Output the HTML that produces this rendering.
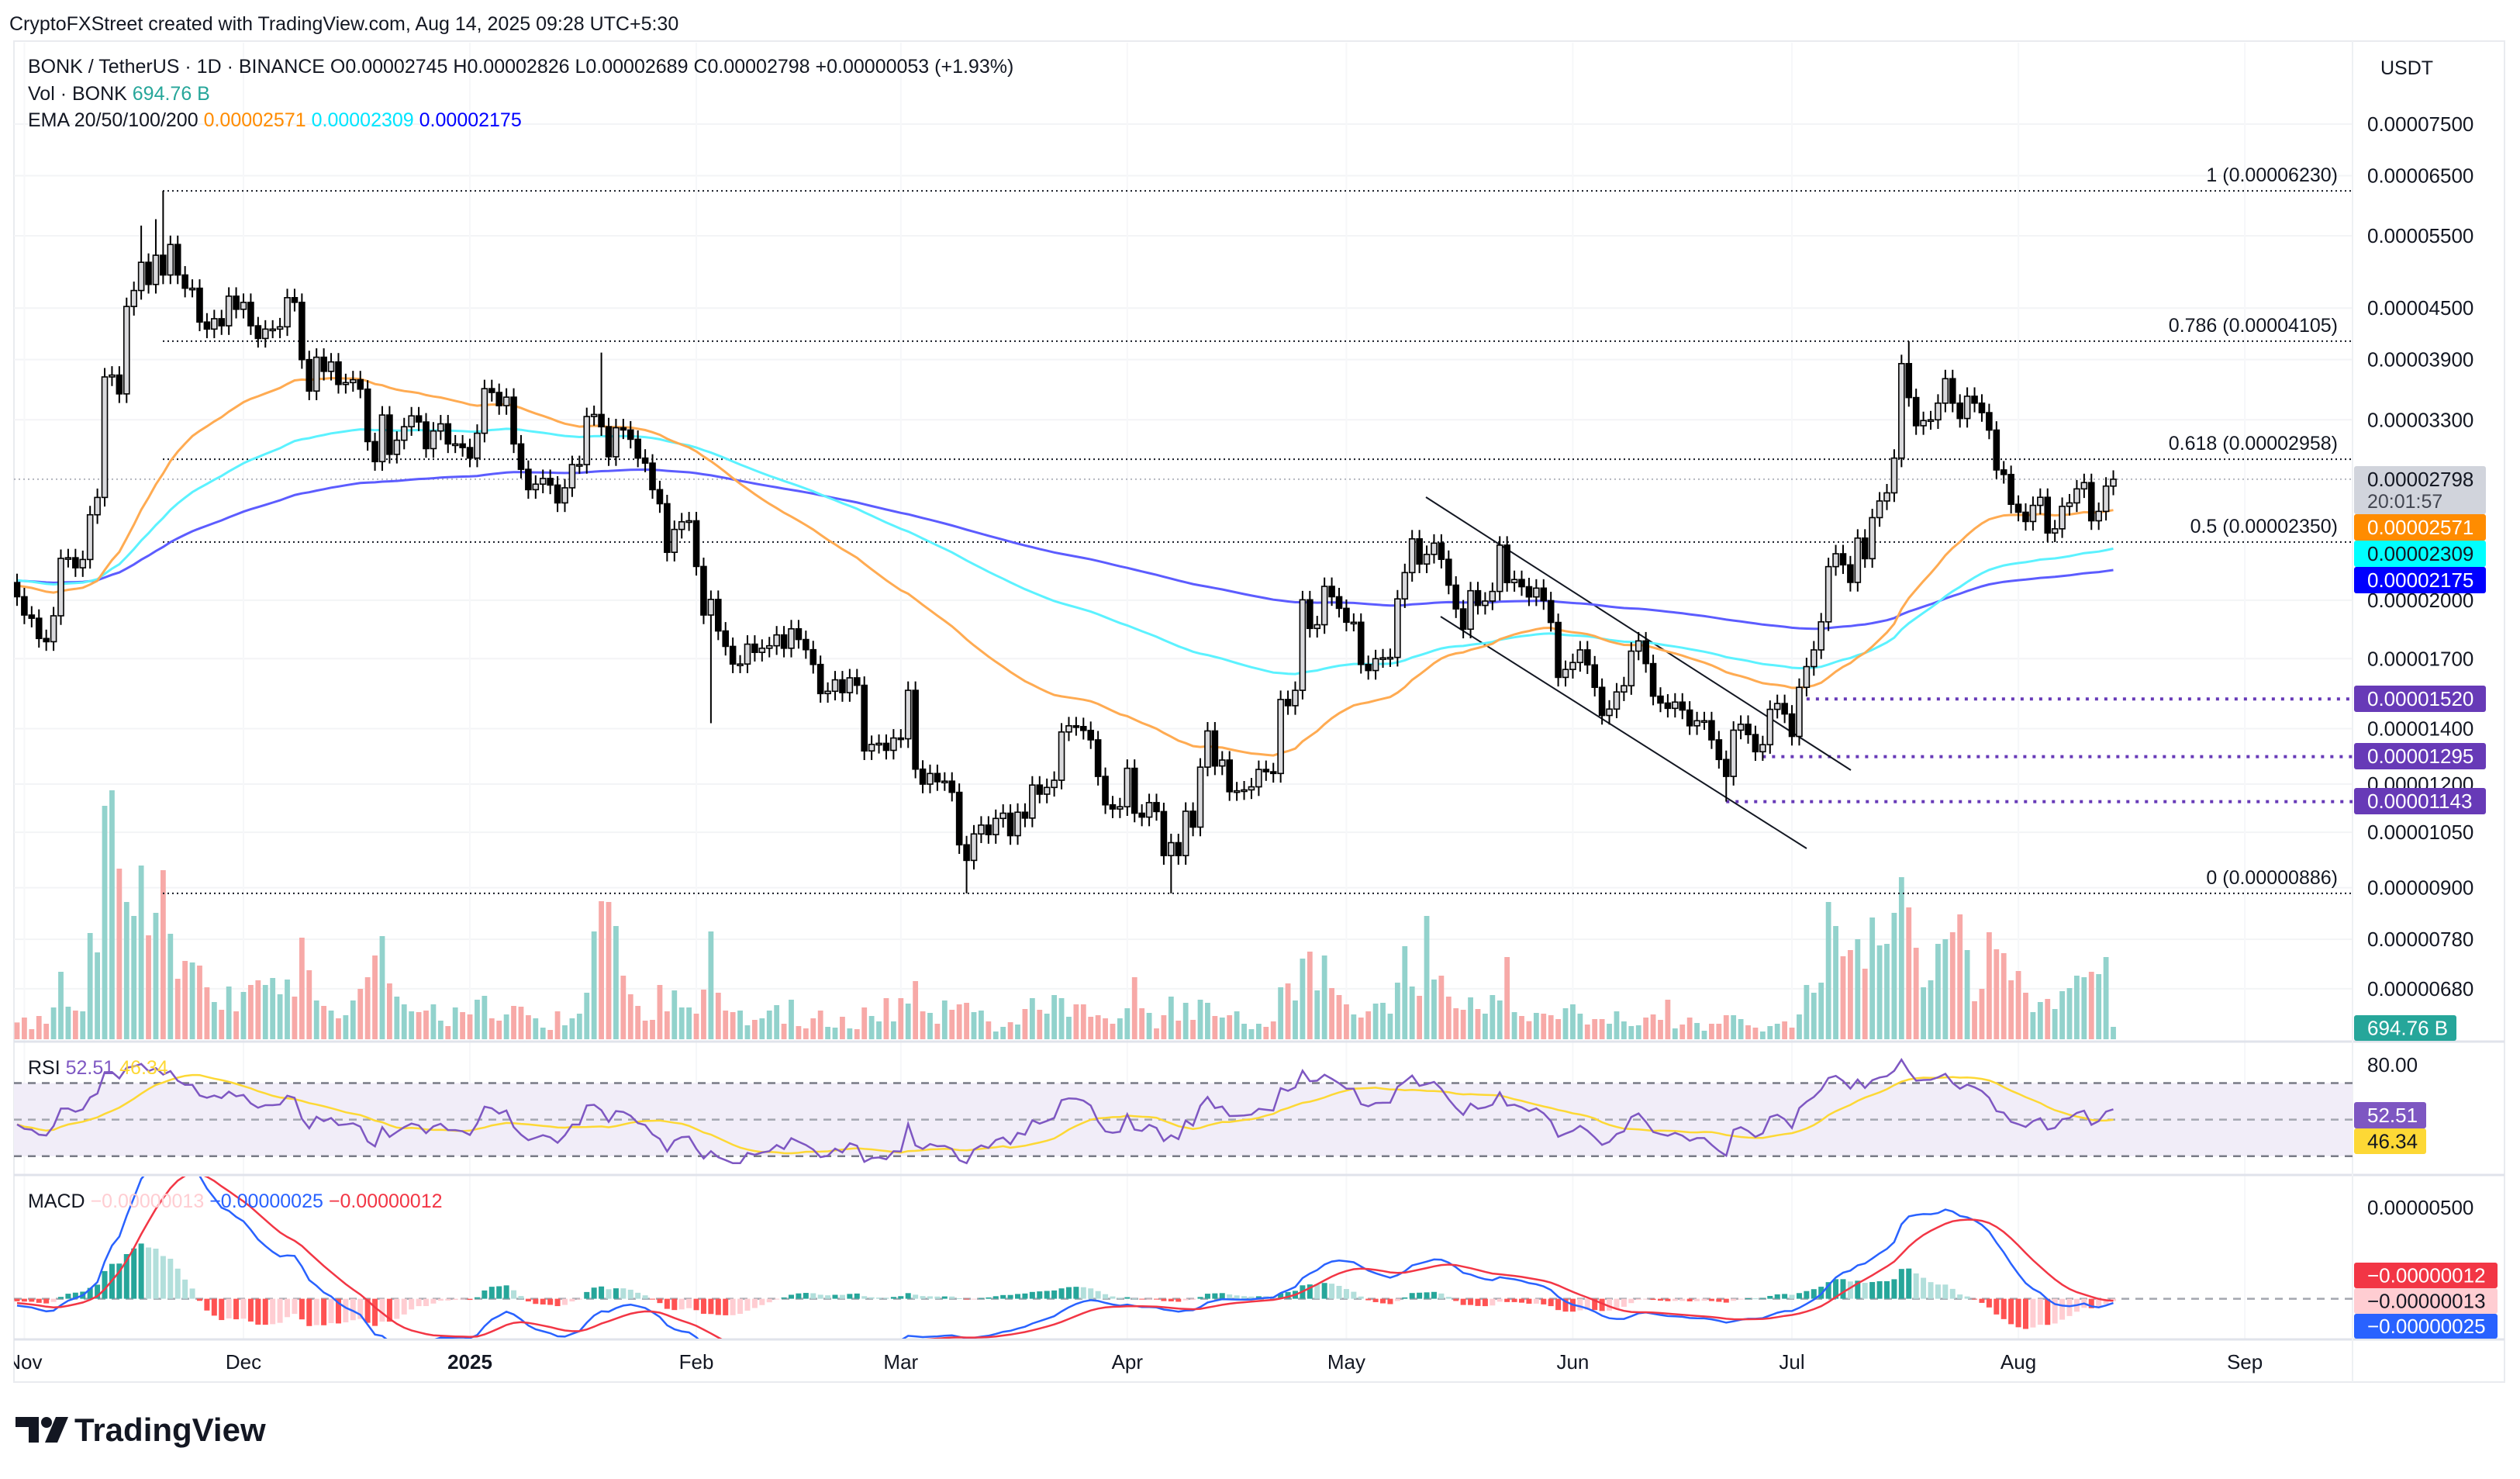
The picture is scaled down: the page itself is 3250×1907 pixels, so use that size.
<!DOCTYPE html>
<html><head><meta charset="utf-8"><title>BONK/USDT chart</title>
<style>
html,body{margin:0;padding:0;background:#fff;}
body{width:3250px;height:1902px;overflow:hidden;font-family:"Liberation Sans",sans-serif;}
svg text{font-family:"Liberation Sans",sans-serif;}
</style></head>
<body>
<svg id="chart" xmlns="http://www.w3.org/2000/svg" width="3250" height="1902" viewBox="0 0 3250 1902">
<defs>
<clipPath id="mainClip"><rect x="18" y="55" width="3016" height="1287"/></clipPath>
<clipPath id="rsiClip"><rect x="18" y="1345" width="3016" height="169"/></clipPath>
<clipPath id="macdClip"><rect x="18" y="1517" width="3016" height="209"/></clipPath>
<clipPath id="timeClip"><rect x="18" y="1728" width="3016" height="54"/></clipPath>
</defs>
<rect x="0" y="0" width="3250" height="1902" fill="#ffffff"/>
<text x="12" y="39" font-size="25" fill="#131722">CryptoFXStreet created with TradingView.com, Aug 14, 2025 09:28 UTC+5:30</text>
<rect x="18" y="53" width="3212" height="1729" fill="none" stroke="#e9ebef" stroke-width="2"/>
<g id="grid"></g>
<g id="mainPane" clip-path="url(#mainClip)"></g>
<g id="rsiPane" clip-path="url(#rsiClip)"></g>
<g id="macdPane" clip-path="url(#macdClip)"></g>
<g id="timeAxis" clip-path="url(#timeClip)"></g>
<g id="axis"></g>
<g>
<text x="36" y="94" font-size="25" fill="#131722">BONK / TetherUS · 1D · BINANCE  <tspan>O0.00002745</tspan>  <tspan>H0.00002826</tspan>  <tspan>L0.00002689</tspan>  <tspan>C0.00002798</tspan>  <tspan>+0.00000053 (+1.93%)</tspan></text>
<text x="36" y="129" font-size="25" fill="#131722">Vol · BONK  <tspan fill="#26a69a">694.76 B</tspan></text>
<text x="36" y="163" font-size="25" fill="#131722">EMA 20/50/100/200  <tspan fill="#ff8c00">0.00002571</tspan>  <tspan fill="#00e5ff">0.00002309</tspan>  <tspan fill="#0000ff">0.00002175</tspan></text>
<text x="36" y="1385" font-size="25" fill="#131722">RSI  <tspan fill="#7e57c2">52.51</tspan> <tspan fill="#fdd835">46.34</tspan></text>
<text x="36" y="1557" font-size="25" fill="#131722">MACD  <tspan fill="#ffcdd2">−0.00000013</tspan> <tspan fill="#2962ff">−0.00000025</tspan> <tspan fill="#f23645">−0.00000012</tspan></text>
</g>
<text x="3070" y="96" font-size="25" fill="#131722">USDT</text>
<g>
<path d="M20 1827 H50 V1860 H37 V1840 H20 Z" fill="#131722"/>
<circle cx="60" cy="1834" r="7" fill="#131722"/>
<path d="M72 1827 H88 L74 1860 H58 Z" fill="#131722"/>
<text x="96" y="1858" font-size="42" font-weight="bold" fill="#131722">TradingView</text>
</g>
</svg>
<script>
// ---- data (prices in units of 0.00000001) ----
const startDay = -1; // Oct 31, 2024 (day 0 = Nov 1)
const closes = [
2019,1919,1902,1798,1782,1915,2246,2250,2188,2239,2535,
2660,3717,3736,3546,4520,4725,5110,4805,5211,4933,
5369,4933,4755,4755,4329,4245,4369,4284,4651,4485,
4572,4284,4136,4245,4245,4272,4632,4572,3900,3574,
3926,3775,3875,3640,3659,3688,3593,3106,2938,3344,
2998,3118,3237,3336,3280,3046,3199,3263,3086,3086,
3055,2967,3179,3598,3560,3432,3514,3086,2876,2718,
2760,2804,2753,2620,2732,2914,2914,3330,3349,3237,
2978,3228,3208,3126,2967,2926,2718,2614,2284,2434,
2486,2493,2196,1919,2004,1836,1759,1675,1675,1770,
1730,1750,1762,1816,1750,1847,1793,1743,1673,1543,
1553,1603,1547,1612,1579,1316,1340,1344,1318,1364,
1361,1557,1251,1200,1236,1208,1210,1173,1014,971,
1045,1071,1043,1091,1107,1040,1110,1092,1197,1167,
1189,1213,1387,1411,1408,1393,1357,1226,1133,1120,
1127,1254,1107,1095,1140,1112,984,1020,984,1113,
1065,1258,1391,1262,1283,1175,1178,1181,1191,1250,
1242,1236,1518,1492,1557,2002,1849,1868,2078,2019,
1955,1881,1881,1673,1645,1700,1704,1706,2007,2159,
2371,2211,2271,2343,2240,2085,1952,1845,2053,1971,
1995,2049,2330,2100,2118,2076,2018,2068,1997,1880,
1614,1650,1682,1742,1671,1570,1452,1478,1550,1577,
1736,1786,1677,1532,1503,1481,1507,1474,1411,1431,
1431,1357,1285,1226,1394,1417,1377,1313,1339,1477,
1501,1458,1370,1570,1663,1742,1883,2195,2275,2206,
2101,2376,2244,2515,2634,2694,2967,3857,3510,3246,
3293,3300,3456,3699,3456,3312,3523,3456,3366,3207,
2871,2835,2610,2553,2488,2602,2661,2410,2438,2595,
2620,2724,2772,2493,2559,2745,2798
];
const firstOpen = 2100;
// notable wick extremes: [dayIndex, value]
const highMarks = [[16,5658],[18,5760],[19,6230],[79,3977],[257,3950],[258,4105]];
const lowMarks = [[94,1421],[129,886],[157,886],[233,1143]];
// volume in units of 14.5B
const volumes = [
65,84,39,90,60,123,261,126,111,108,
411,336,903,963,660,531,477,672,402,489,
654,408,234,303,297,285,201,144,114,204,
108,183,210,228,210,237,174,231,165,393,
267,150,129,111,81,93,150,195,240,324,
399,216,165,135,108,105,111,135,72,51,
123,105,96,153,168,81,72,96,129,126,
93,81,45,36,108,54,81,99,180,417,
534,531,438,246,174,129,72,75,210,108,
189,123,123,99,192,417,180,111,105,111,
54,75,81,111,132,60,153,51,42,81,
111,48,45,87,42,39,123,90,69,159,
69,159,138,225,
108,102,60,150,114,135,141,105,111,69,30,48,66,57,117,159,114,99,171,159,87,135,
135,87,93,81,60,81,120,240,120,102,
42,93,165,72,141,75,153,141,90,84,
93,108,60,39,60,48,69,201,216,150,
312,339,189,324,198,171,135,96,84,108,
138,141,99,219,360,204,168,477,231,246,
165,120,114,162,117,99,171,150,318,105,
90,70,
102,99,93,78,120,135,99,57,78,78,
60,108,69,51,54,84,96,75,153,42,
57,84,63,33,60,60,93,93,78,54,
45,30,51,60,69,45,96,210,180,219,
531,438,321,345,387,273,471,363,369,489,
627,510,354,201,228,369,387,414,483,345,
147,195,414,348,333,228,264,180,105,144,
156,117,186,198,246,240,261,252,318,48
];
const priceTicks = [7500,6500,5500,4500,3900,3300,2000,1700,1400,1200,1050,900,780,680];
const fibLevels = [1,0.786,0.618,0.5,0];
const fibPrices = [6230,4105,2958,2350,886];
const supportPrices = [1520,1295,1143];
const supportStartDay = [244,238,233];
const monthLabels = ["Nov","Dec","2025","Feb","Mar","Apr","May","Jun","Jul","Aug","Sep"];
const monthDays = [0,30,61,92,120,151,181,212,242,273,304];
const rsiTicks = [80];
const macdTicks = [500];

// ---- axis functions ----
const NS = "http://www.w3.org/2000/svg";
function xOf(day){ return 31.4 + 9.42*day; }
function yP(p){ return 160 + 464.4*Math.log(7500/p); }
function yRsi(v){ return 1443.6 - (v-50)*2.357; }
function yMacd(v){ return 1674.6 - v*0.2357; }
function mk(parent, tag, attrs){ const e=document.createElementNS(NS,tag); for(const k in attrs) e.setAttribute(k,attrs[k]); parent.appendChild(e); return e; }
function fmt(p){ return (p/1e8).toFixed(8); }
const main=document.getElementById('mainPane'), grid=document.getElementById('grid'), axis=document.getElementById('axis');
const rsiG=document.getElementById('rsiPane'), macdG=document.getElementById('macdPane'), timeG=document.getElementById('timeAxis');
const N=closes.length;
const dayOf = i => startDay + i;

// grid
priceTicks.forEach(p=>{
  const l=mk(grid,'line',{x1:18,x2:3034,y1:yP(p),y2:yP(p),stroke:'#f3f4f6','stroke-width':2});
  
  
});
monthDays.forEach(d=>{
  const l=mk(grid,'line',{x1:xOf(d),x2:xOf(d),y1:55,y2:1727,stroke:'#f6f7f9','stroke-width':2});
  
  
});
[[1343],[1515],[1727]].forEach(a=>{
  const l=mk(grid,'line',{x1:18,x2:3230,y1:a[0],y2:a[0],stroke:'#e0e3eb','stroke-width':3});
  
  
});
const axl=mk(grid,'line',{x1:3034,x2:3034,y1:53,y2:1782,stroke:'#eef0f3','stroke-width':2});



// OHLC
const opens=[],highs=[],lows=[];
for(let i=0;i<N;i++){
  const o=i?closes[i-1]:firstOpen, c=closes[i];
  opens.push(o); highs.push(Math.max(o,c)*1.025); lows.push(Math.min(o,c)*0.975);
}
highMarks.forEach(([d,v])=>{ const i=d-startDay; if(i>=0&&i<N) highs[i]=Math.max(highs[i],v); });
lowMarks.forEach(([d,v])=>{ const i=d-startDay; if(i>=0&&i<N) lows[i]=Math.min(lows[i],v); });

// volume
for(let i=0;i<N;i++){
  const up=closes[i]>=opens[i];
  const h=volumes[i]/3;
  const r=mk(main,'rect',{x:xOf(dayOf(i))-3.4,y:1340-h,width:6.8,height:h,fill:up?'#92d2cc':'#f7a9a7'});
  
  
}

// fib lines
fibPrices.forEach((p,k)=>{
  const y=yP(p);
  const l=mk(main,'line',{x1:210,x2:3034,y1:y,y2:y,stroke:'#131722','stroke-width':2,'stroke-dasharray':'2 4'});
  
  
  const t=mk(main,'text',{x:3015,y:y-12,'font-size':25,fill:'#131722','text-anchor':'end'});
  t.textContent=fibLevels[k]+' ('+fmt(p)+')';
  
  
});
const cp=mk(main,'line',{x1:18,x2:3034,y1:yP(closes[N-1]),y2:yP(closes[N-1]),stroke:'#b2b5be','stroke-width':2,'stroke-dasharray':'2 4'});


supportPrices.forEach((p,k)=>{
  const l=mk(main,'line',{x1:xOf(supportStartDay[k]),x2:3034,y1:yP(p),y2:yP(p),stroke:'#673ab7','stroke-width':4,'stroke-dasharray':'4 8'});
  
  
});
const ch1=mk(main,'line',{x1:1839,y1:641,x2:2387,y2:993,stroke:'#131722','stroke-width':2});


const ch2=mk(main,'line',{x1:1858,y1:795,x2:2330,y2:1094,stroke:'#131722','stroke-width':2});



// EMAs
function ema(arr,n,seed){ const k=2/(n+1); const out=[]; let e=seed; for(let i=0;i<arr.length;i++){ e=arr[i]*k+e*(1-k); out.push(e);} return out; }
[[200,2112,'#5c5cff',3],[100,2115,'#5cf2ff',3],[50,2085,'#ffab52',3]].forEach(([n,s,col,w])=>{
  const v=ema(closes,n,s);
  const d=v.map((e,i)=>(i?'L':'M')+xOf(dayOf(i)).toFixed(1)+' '+yP(e).toFixed(1)).join(' ');
  const p=mk(main,'path',{d:d,fill:'none',stroke:col,'stroke-width':w});
  
  
});

// candles
for(let i=0;i<N;i++){
  const x=xOf(dayOf(i)), o=opens[i], c=closes[i], up=c>=o;
  const w=mk(main,'line',{x1:x,x2:x,y1:yP(highs[i]),y2:yP(lows[i]),stroke:'#000','stroke-width':2});
  
  
  const yt=yP(Math.max(o,c)), yb=yP(Math.min(o,c));
  const b=mk(main,'rect',{x:x-3.5,y:yt,width:7,height:Math.max(2,yb-yt),fill:up?'#d9d9dc':'#000',stroke:'#000','stroke-width':1.6});
  
  
}

// ---- RSI ----
const band=mk(rsiG,'rect',{x:18,y:yRsi(70),width:3016,height:yRsi(30)-yRsi(70),fill:'#f1edf8'});


[70,50,30].forEach(v=>{
  const l=mk(rsiG,'line',{x1:18,x2:3034,y1:yRsi(v),y2:yRsi(v),stroke:v===50?'#a3a6af':'#787b86','stroke-width':2.5,'stroke-dasharray':'10 8'});
  
  
});
const rsi=[]; { let ag=36, al=40; for(let i=0;i<N;i++){ const ch=i?closes[i]-closes[i-1]:0; const g=Math.max(ch,0)/closes[Math.max(i-1,0)]*1000, l=Math.max(-ch,0)/closes[Math.max(i-1,0)]*1000; ag=(ag*13+g)/14; al=(al*13+l)/14; rsi.push(100-100/(1+ag/al)); } }
const rsiMa=rsi.map((v,i)=>{ const s=rsi.slice(Math.max(0,i-13),i+1); return s.reduce((a,b)=>a+b,0)/s.length; });
function pathOf(arr,yf){ return arr.map((v,i)=>(i?'L':'M')+xOf(dayOf(i)).toFixed(1)+' '+yf(v).toFixed(1)).join(' '); }
const rm=mk(rsiG,'path',{d:pathOf(rsiMa,yRsi),fill:'none',stroke:'#fdd835','stroke-width':2.5});


const rl=mk(rsiG,'path',{d:pathOf(rsi,yRsi),fill:'none',stroke:'#7e57c2','stroke-width':2.5});



// ---- MACD ----
const e12=ema(closes,12,closes[0]), e26=ema(closes,26,closes[0]*1.02);
const macd=e12.map((v,i)=>v-e26[i]);
const sig=ema(macd,9,-20);
const hist=macd.map((v,i)=>v-sig[i]);
const zl=mk(macdG,'line',{x1:18,x2:3034,y1:yMacd(0),y2:yMacd(0),stroke:'#a3a6af','stroke-width':2.5,'stroke-dasharray':'10 8'});


for(let i=0;i<N;i++){
  const h=hist[i], prev=i?hist[i-1]:0;
  const col = h>=0 ? (h>=prev?'#26a69a':'#b2dfdb') : (h<=prev?'#ff5252':'#ffcdd2');
  const y0=yMacd(0), y1=yMacd(h);
  const r=mk(macdG,'rect',{x:xOf(dayOf(i))-3.5,y:Math.min(y0,y1),width:7,height:Math.max(1,Math.abs(y1-y0)),fill:col});
  
  
}
const ml=mk(macdG,'path',{d:pathOf(macd,yMacd),fill:'none',stroke:'#2962ff','stroke-width':2.5});


const sl=mk(macdG,'path',{d:pathOf(sig,yMacd),fill:'none',stroke:'#f23645','stroke-width':2.5});



// ---- time axis ----
monthLabels.forEach((m,k)=>{
  const t=mk(timeG,'text',{x:xOf(monthDays[k]),y:1765,'font-size':26,fill:'#131722','text-anchor':'middle','font-weight':m==='2025'?'bold':'normal'});
  t.textContent=m;
  
  
});

// ---- price axis ----
priceTicks.forEach(p=>{
  const t=mk(axis,'text',{x:3053,y:yP(p)+9,'font-size':26,fill:'#131722'});
  t.textContent=fmt(p);
  
  
});
rsiTicks.forEach(v=>{
  const t=mk(axis,'text',{x:3053,y:yRsi(v)+9,'font-size':26,fill:'#131722'});
  t.textContent=v.toFixed(2);
  
  
});
macdTicks.forEach(v=>{
  const t=mk(axis,'text',{x:3053,y:yMacd(v)+9,'font-size':26,fill:'#131722'});
  t.textContent=fmt(v);
  
  
});
function box(y1,y2,x2,bg,fg,txt,name){
  const r=mk(axis,'rect',{x:3036,y:y1,width:x2-3036,height:y2-y1,fill:bg,rx:3});
  
  
  const t=mk(axis,'text',{x:3053,y:(y1+y2)/2+9,'font-size':26,fill:fg});
  t.textContent=txt;
  
  
}
const cr=mk(axis,'rect',{x:3036,y:601,width:170,height:62,fill:'#d1d4dc',rx:3});


const ct=mk(axis,'text',{x:3053,y:627,'font-size':26,fill:'#131722'});
ct.textContent=fmt(closes[N-1]);


const tt=mk(axis,'text',{x:3053,y:655,'font-size':25,fill:'#434651'});
tt.textContent='20:01:57';


box(663,697,3206,'#ff8c00','#fff','0.00002571','ema20-price-label');
box(697,731,3206,'#00ffff','#131722','0.00002309','ema50-price-label');
box(731,765,3206,'#0000ff','#fff','0.00002175','ema100-price-label');
box(884,918,3206,'#673ab7','#fff','0.00001520','support-1520-label');
box(958,992,3206,'#673ab7','#fff','0.00001295','support-1295-label');
box(1016,1050,3206,'#673ab7','#fff','0.00001143','support-1143-label');
box(1309,1342,3168,'#26a69a','#fff','694.76 B','volume-label');
box(1421,1455,3129,'#7e57c2','#fff','52.51','rsi-value-label');
box(1455,1488,3129,'#fdd835','#131722','46.34','rsi-ma-value-label');
box(1628,1661,3221,'#f23645','#fff','−0.00000012','macd-signal-value-label');
box(1661,1694,3221,'#ffcdd2','#131722','−0.00000013','macd-histogram-value-label');
box(1694,1726,3221,'#2962ff','#fff','−0.00000025','macd-value-label');
</script>
</body></html>
